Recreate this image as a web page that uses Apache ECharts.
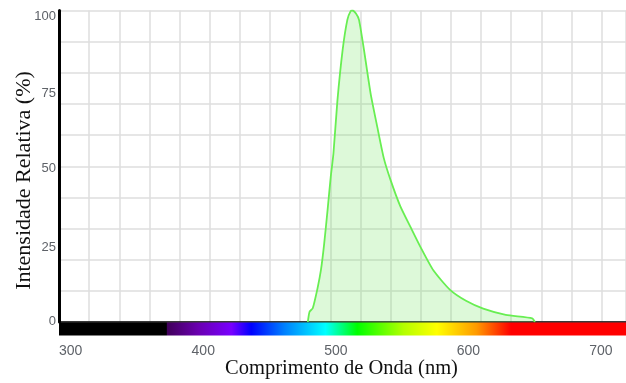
<!DOCTYPE html>
<html>
<head>
<meta charset="utf-8">
<script src="https://cdn.jsdelivr.net/npm/echarts@6/dist/echarts.min.js"></script>
<style>
html,body{margin:0;padding:0;background:#fff;}
#c{width:626px;height:383px;}
</style>
</head>
<body>
<div id="c"></div>
<script>
// Wavelength (nm) and relative intensity (%)
var wavelengths = [487.7, 489, 491.4, 495, 497.6, 500, 502.6, 505, 507, 510, 514, 517.5, 520, 521.5, 524, 526.3, 530, 535, 540, 545, 550, 557.5, 565, 572.5, 582.5, 595, 607, 620, 637, 657, 659];
var intensity   = [0, 3.3, 4.4, 10.8, 16.7, 25, 36, 46.7, 54, 71, 87.5, 97, 99.8, 100, 99, 97, 87.5, 73.5, 62.8, 52.6, 45.7, 37.1, 30.6, 24.2, 16.5, 10.3, 6.8, 4.3, 2.3, 1.2, 0];
var xTicks = [300, 400, 500, 600, 700];
var yTicks = [0, 25, 50, 75, 100];
var xMin = 300, xMax = 727.7;
// visible spectrum colour stops (nm, colour)
var spectrumNm     = [300, 381, 381.5, 405, 430, 445, 470, 501, 525, 560, 585, 615, 641, 727.7];
var spectrumColors = ['#000000', '#000000', '#40005a', '#6a00b0', '#7800ff', '#0000ff', '#0080ff', '#00ffff', '#00ff00', '#b4ff00', '#ffff00', '#ff9a00', '#ff0000', '#ff0000'];

var chart = echarts.init(document.getElementById('c'), null, {renderer: 'canvas'});

var seriesData = wavelengths.map(function (w, i) { return [w, intensity[i]]; });
var stops = spectrumNm.map(function (n, i) {
  return {offset: (n - xMin) / (xMax - xMin), color: spectrumColors[i]};
});
var gridUnits = (xMax - xMin) * 1.3375 / 30.41;

var labelFont = {color: '#5e6268', fontFamily: 'Liberation Sans, Arial, sans-serif', fontSize: 13};
var yRich = {
  p100: Object.assign({padding: [12, 0, 0, 0]}, labelFont),
  p75: Object.assign({padding: [10, 0, 0, 0]}, labelFont),
  p50: Object.assign({padding: [5, 0, 0, 0]}, labelFont),
  p25: Object.assign({padding: [7, 0, 0, 0]}, labelFont),
  p0: Object.assign({padding: [0, 0, 2, 0]}, labelFont)
};

var option = {
  animation: false,
  backgroundColor: '#ffffff',
  grid: {left: 59, right: -5, top: 10.5, bottom: 61, containLabel: false},
  xAxis: [
    {
      type: 'value', min: xMin, max: xMax, interval: 100,
      axisLine: {show: true, onZero: false, lineStyle: {color: '#000', width: 1.5}},
      axisTick: {show: false},
      splitLine: {show: false},
      axisLabel: {
        show: true, align: 'left', margin: 22, color: '#5e6268',
        fontFamily: 'Liberation Sans, Arial, sans-serif', fontSize: 14,
        showMaxLabel: false,
        formatter: function (v) { return xTicks.indexOf(v) >= 0 ? String(v) : ''; }
      }
    },
    {
      type: 'value', min: 0, max: gridUnits, interval: 1, position: 'bottom',
      axisLine: {show: false}, axisTick: {show: false}, axisLabel: {show: false},
      splitLine: {show: true, lineStyle: {color: '#dedede', width: 1.5}}
    }
  ],
  yAxis: [
    {
      type: 'value', min: 0, max: 100, interval: 10,
      axisLine: {show: true, lineStyle: {color: '#000', width: 3}},
      axisTick: {show: false}, axisLabel: {show: false},
      splitLine: {show: true, lineStyle: {color: '#dedede', width: 1.5}}
    },
    {
      type: 'value', min: 0, max: 100, interval: 25, position: 'left',
      axisLine: {show: false}, axisTick: {show: false}, splitLine: {show: false},
      axisLabel: {
        show: true, margin: 3, color: '#5e6268',
        fontFamily: 'Liberation Sans, Arial, sans-serif', fontSize: 13,
        rich: yRich,
        formatter: function (v) { return yTicks.indexOf(v) >= 0 ? '{p' + v + '|' + v + '}' : ''; }
      }
    }
  ],
  series: [
    {
      type: 'line', xAxisIndex: 0, yAxisIndex: 0,
      data: seriesData, showSymbol: false, smooth: 0.2,
      lineStyle: {color: '#68ee52', width: 1.8},
      areaStyle: {color: 'rgba(105,228,85,0.32)'},
      z: 3
    },
    {
      type: 'custom', xAxisIndex: 0, yAxisIndex: 0,
      data: [[xMin, xMax]], clip: false, z: 5,
      renderItem: function (params, api) {
        var p0 = api.coord([api.value(0), 0]);
        var p1 = api.coord([api.value(1), 0]);
        return {
          type: 'rect',
          shape: {x: p0[0], y: p0[1] + 0.5, width: p1[0] - p0[0], height: 13},
          style: {fill: new echarts.graphic.LinearGradient(0, 0, 1, 0, stops)}
        };
      }
    }
  ],
  graphic: [
    {
      type: 'text', x: 24, y: 180.5, rotation: Math.PI / 2,
      style: {
        text: 'Intensidade Relativa (%)', fill: '#111',
        font: '22px "Liberation Serif", "Times New Roman", serif',
        align: 'center', verticalAlign: 'middle'
      }
    },
    {
      type: 'text', x: 341.5, y: 369,
      style: {
        text: 'Comprimento de Onda (nm)', fill: '#111',
        font: '20.5px "Liberation Serif", "Times New Roman", serif',
        align: 'center', verticalAlign: 'middle'
      }
    }
  ]
};
chart.setOption(option);
</script>
</body>
</html>
